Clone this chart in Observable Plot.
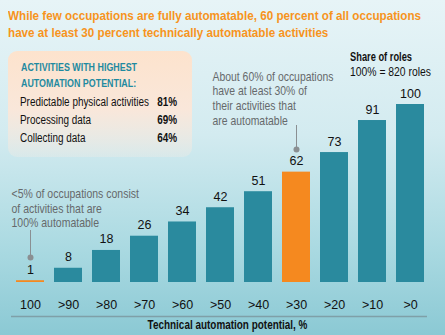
<!DOCTYPE html>
<html><head><meta charset="utf-8">
<script src="https://cdn.jsdelivr.net/npm/d3@7"></script>
<script src="https://cdn.jsdelivr.net/npm/@observablehq/plot@0.6"></script>
<style>
html,body{margin:0;padding:0;background:#fff}
#chart{position:relative;width:445px;height:335px;overflow:hidden;
  background:linear-gradient(to bottom,#e7f4f7 0%,#d3ebf0 40%,#a9d9e1 75%,#8bc9d4 100%);
  font-family:"Liberation Sans",Arial,sans-serif}
#chart svg{position:absolute;left:0;top:0;background:transparent}
.fit{position:absolute;white-space:nowrap;display:inline-block;transform-origin:0 50%}
.fitr{transform-origin:100% 50%}
.title{left:8px;color:#f7941d;font-weight:bold;font-size:13px;line-height:17px}
#box{position:absolute;left:8px;top:51px;width:184px;height:106px;border-radius:9px;
  background:linear-gradient(to bottom,#fde3cd 0%,#f9e7da 55%,rgba(240,236,230,0.35) 100%)}
.head{left:13px;color:#1f8aa0;font-weight:bold;font-size:11.5px;line-height:16px}
.row{font-size:12px;line-height:18px;color:#111}
.share{left:350px;font-size:12px;line-height:15px;color:#111}
</style></head>
<body>
<div id="chart">
  <div id="box"></div>
</div>
<script>
const titleLines = ["While few occupations are fully automatable, 60 percent of all occupations", "have at least 30 percent technically automatable activities"];
const boxHeader = ["ACTIVITIES WITH HIGHEST", "AUTOMATION POTENTIAL:"];
const activityNames = ["Predictable physical activities", "Processing data", "Collecting data"];
const activityShares = ["81%", "69%", "64%"];
const shareLabel = ["Share of roles", "100% = 820 roles"];

const categories = ["100", ">90", ">80", ">70", ">60", ">50", ">40", ">30", ">20", ">10", ">0"];
const values = [1, 8, 18, 26, 34, 42, 51, 62, 73, 91, 100];
const highlighted = ["100", ">30"];
const axisTitle = "Technical automation potential, %";
const noteLeft = "<5% of occupations consist\nof activities that are\n100% automatable";
const noteRight = "About 60% of occupations\nhave at least 30% of\ntheir activities that\nare automatable";

const data = categories.map((c, i) => ({cat: c, value: values[i], hi: highlighted.includes(c)}));

const chartDiv = document.getElementById("chart");
const box = document.getElementById("box");
function addText(parent, cls, text, top, style) {
  const s = document.createElement("span");
  s.className = "fit " + cls;
  s.textContent = text;
  s.style.top = top + "px";
  Object.assign(s.style, style || {});
  parent.appendChild(s);
  return s;
}
function fit(el, target) {
  const w = el.getBoundingClientRect().width;
  el.style.transform = "scaleX(" + (target / w) + ")";
  return target / w;
}
// title
const t1 = addText(chartDiv, "title", titleLines[0], 6.5);
const t2 = addText(chartDiv, "title", titleLines[1], 23.5);
const kt = fit(t1, 413);
t2.style.transform = "scaleX(" + kt + ")";
// box
const h1 = addText(box, "head", boxHeader[0], 8);
const h2 = addText(box, "head", boxHeader[1], 24);
const kh = fit(h1, 116);
h2.style.transform = "scaleX(" + kh + ")";
let kr = null;
activityNames.forEach((n, i) => {
  const a = addText(box, "row", n, 42 + i * 18, {left: "12px"});
  if (kr === null) kr = fit(a, 129); else a.style.transform = "scaleX(" + kr + ")";
  const p = addText(box, "row fitr", activityShares[i], 42 + i * 18, {right: "15px", fontWeight: "bold"});
  p.style.transform = "scaleX(" + kr + ")";
});
// share of roles
const s1 = addText(chartDiv, "share", shareLabel[0], 49.5, {fontWeight: "bold"});
const s2 = addText(chartDiv, "share", shareLabel[1], 64.5);
fit(s1, 62);
fit(s2, 81);

const notes = [
  {cat: "100", y: 41.9, text: noteLeft, lineTop: 29.2, lineBottom: 14, width: 128},
  {cat: ">30", y: 103.6, text: noteRight, lineTop: 88.2, lineBottom: 74.7, width: 121}
];
const noteStyle = {x: "cat", y: "y", text: "text", textAnchor: "start", lineAnchor: "middle", lineHeight: 1.17, fontSize: 12.5, fill: "#66696b"};

const chart = Plot.plot({
  width: 445,
  height: 335,
  marginTop: 104,
  marginBottom: 53,
  marginLeft: 7,
  marginRight: 12,
  style: {background: "transparent", fontFamily: "Liberation Sans, Arial, sans-serif", fontSize: "12px", color: "#111"},
  x: {domain: categories, paddingInner: 0.265, paddingOuter: 0.13},
  y: {domain: [0, 100], axis: null},
  marks: [
    Plot.barY(data, {x: "cat", y: "value", fill: d => d.hi ? "#f5891f" : "#2a8a9e"}),
    Plot.text(data, {x: "cat", y: "value", text: d => String(d.value), dy: -11, fontSize: 12.5, fill: "#111"}),
    Plot.axisX({tickSize: 0, tickPadding: 18, fontSize: 12.5, label: null, fill: "#111"}),
    Plot.ruleY([0], {dy: 34, insetLeft: 4, insetRight: 6, stroke: "#7fa0a8", strokeWidth: 1.5}),
    Plot.text([axisTitle], {frameAnchor: "bottom", dy: 46, dx: 7, fontWeight: "bold", fontSize: 12.5, fill: "#111"}),
    Plot.ruleX(notes, {x: "cat", y1: "lineTop", y2: "lineBottom", stroke: "#8a8f92", strokeWidth: 1}),
    Plot.dot(notes, {x: "cat", y: "lineBottom", r: 3, fill: "#8a8f92", stroke: null}),
    Plot.text([notes[0]], {...noteStyle, dx: -19}),
    Plot.text([notes[1]], {...noteStyle, dx: -84})
  ]
});
chartDiv.appendChild(chart);

// horizontal condensing of the narrow-font texts (matched by their content)
const targets = [
  {start: axisTitle, width: 160},
  {start: noteLeft.split("\n")[0], width: notes[0].width},
  {start: noteRight.split("\n")[0], width: notes[1].width}
];
chart.querySelectorAll("text").forEach(el => {
  const tc = el.textContent;
  const tg = targets.find(t => tc.startsWith(t.start));
  if (!tg) return;
  const w = el.getBBox().width;
  if (!w) return;
  const k = tg.width / w;
  const tr = el.getAttribute("transform");
  if (tr) {
    el.setAttribute("transform", tr + " scale(" + k + ",1)");
  } else {
    const x = +el.getAttribute("x") || 0;
    const y = +el.getAttribute("y") || 0;
    el.setAttribute("transform", "translate(" + x + "," + y + ") scale(" + k + ",1) translate(" + (-x) + "," + (-y) + ")");
  }
});
</script>
</body></html>
